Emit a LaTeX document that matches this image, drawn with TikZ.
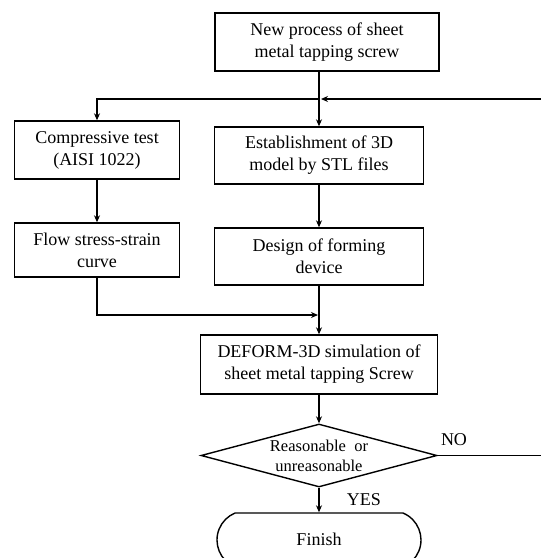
\documentclass[tikz,border=0pt]{standalone}
\usepackage{fontspec}
\setmainfont{Liberation Serif}
\usetikzlibrary{shapes.geometric,shapes.misc,arrows.meta}
\begin{document}
\begin{tikzpicture}[x=1pt,y=-1pt,
  box/.style={draw,line width=1.4pt,align=center,inner sep=0pt,font=\fontsize{18}{22}\selectfont},
  link/.style={line width=1.5pt},
  arr/.style={link,-{Stealth[length=7pt,width=6pt]}},
  lbl/.style={font=\fontsize{18}{22}\selectfont,inner sep=0pt}]
\useasboundingbox (0,0) rectangle (541,558);
\node[box,minimum width=224pt,minimum height=58pt] (top) at (327,42) {New process of sheet\\metal tapping screw};
\node[box,minimum width=165pt,minimum height=58pt] (comp) at (97,150) {Compressive test\\(AISI 1022)};
\node[box,minimum width=209pt,minimum height=57pt] (est) at (319,155.5) {Establishment of 3D\\model by STL files};
\node[box,minimum width=165pt,minimum height=54pt] (flow) at (97,250) {Flow stress-strain\\curve};
\node[box,minimum width=209pt,minimum height=57pt] (des) at (319,256.5) {Design of forming\\device};
\node[box,minimum width=237pt,minimum height=59pt] (def) at (319,364.5) {DEFORM-3D simulation of\\sheet metal tapping Screw};
\node[draw,line width=1.4pt,diamond,aspect=3.75,minimum width=236pt,minimum height=63pt,inner sep=0pt,align=center,font=\fontsize{16.5}{22}\selectfont] (dec) at (319,455.5) {\raisebox{-2pt}{Reasonable\ \ or}\\unreasonable};
\node[draw,line width=1.4pt,rounded rectangle,rounded rectangle arc length=135,minimum width=204pt,minimum height=54pt,inner sep=0pt,font=\fontsize{18}{22}\selectfont] (fin) at (319,540) {\raisebox{2pt}{Finish}};
\coordinate (j1) at (319,99);
\coordinate (jl) at (97,99);
\coordinate (jr) at (545,99);
\coordinate (nr) at (545,455.5);
\coordinate (j2) at (319,315);
\coordinate (fl) at (97,315);
\draw[arr] (top.south -| j1) -- (est.north);
\draw[arr] (j1) -- (jl) -- (comp.north);
\draw[arr] (jr) -- ([xshift=2pt]j1);
\draw[arr] (comp.south) -- (flow.north);
\draw[arr] (est.south) -- (des.north);
\draw[arr] (flow.south) -- (fl) -- ([xshift=-1pt]j2);
\draw[arr] (des.south) -- (def.north);
\draw[arr] (def.south) -- (dec.north);
\draw[link] (dec.east) -- (nr);
\draw[arr] (dec.south) -- (fin.north);
\node[lbl] (no) at (454,440) {NO};
\node[lbl] (yes) at (364,500) {YES};
\end{tikzpicture}
\end{document}
